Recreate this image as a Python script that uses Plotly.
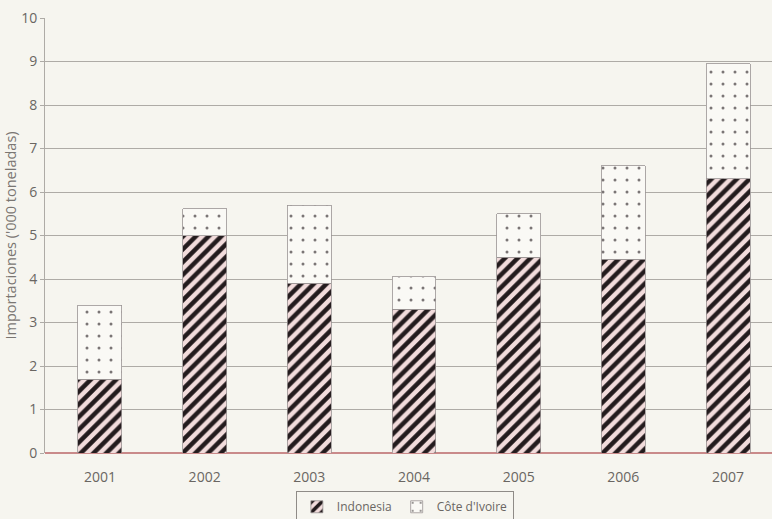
import plotly.graph_objects as go

# Importaciones de cacao por origen (miles de toneladas)
years = ["2001", "2002", "2003", "2004", "2005", "2006", "2007"]
indonesia = [1.7, 5.0, 3.9, 3.3, 4.5, 4.45, 6.3]
cote_ivoire = [1.7, 0.62, 1.8, 0.75, 1.0, 2.15, 2.65]
y_ticks = [0, 1, 2, 3, 4, 5, 6, 7, 8, 9, 10]

paper = "#f6f5ef"
grid = "#aeaba6"
text = "#6a6662"

fig = go.Figure()
fig.add_trace(go.Bar(
    x=years, y=indonesia, name="Indonesia", width=0.42,
    marker=dict(
        color="#f2dcdc",
        line=dict(color="#9a9494", width=0.8),
        pattern=dict(shape="/", fgcolor="#231b1d", bgcolor="#f2dcdc",
                     size=9, solidity=0.5, fillmode="replace", fgopacity=1),
    ),
))
fig.add_trace(go.Bar(
    x=years, y=cote_ivoire, name="Côte d'Ivoire", width=0.42,
    marker=dict(
        color="#faf9f5",
        line=dict(color="#9a9494", width=0.8),
        pattern=dict(shape=".", fgcolor="#7a7575", bgcolor="#faf9f5",
                     size=12, solidity=0.05, fillmode="replace", fgopacity=1),
    ),
))

fig.update_layout(
    barmode="stack",
    width=772, height=519,
    margin=dict(l=45, r=0, t=18, b=66, autoexpand=False),
    paper_bgcolor=paper, plot_bgcolor=paper,
    font=dict(family="Open Sans, Arial, sans-serif", color=text, size=13),
    showlegend=True,
    legend=dict(
        orientation="h", x=0.495, xanchor="center", y=-0.088, yanchor="top",
        bordercolor="#8f8b87", borderwidth=1, bgcolor=paper,
        font=dict(size=12, color=text), itemwidth=30,
        traceorder="normal", tracegroupgap=0,
    ),
    xaxis=dict(
        type="category", range=[-0.525, 6.42], automargin=False,
        showgrid=False, showline=False, ticks="",
        ticklabelstandoff=14,
        tickfont=dict(size=14, color=text),
    ),
    yaxis=dict(
        range=[0, 10], tickvals=y_ticks, automargin=False,
        showgrid=True, gridcolor=grid, gridwidth=1,
        showline=True, linecolor=grid, linewidth=1,
        ticks="outside", ticklen=4, tickcolor=grid,
        zeroline=True, zerolinecolor="#c98a8a", zerolinewidth=1.5,
        tickfont=dict(size=14, color=text),
        title=dict(text="Importaciones ('000 toneladas)",
                   font=dict(size=14.5, color="#7a7672"), standoff=1),
    ),
)

fig.write_html("out.html")
